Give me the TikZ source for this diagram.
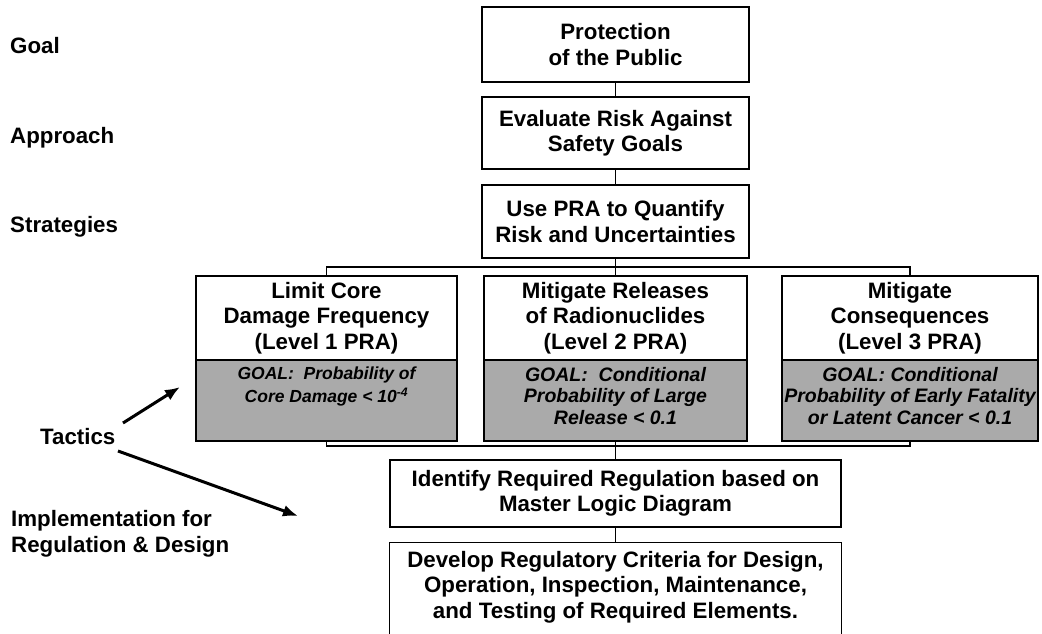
\documentclass[tikz,border=0pt]{standalone}
\usepackage{fontspec}
\setmainfont{Liberation Sans}
\usetikzlibrary{arrows.meta}
\definecolor{goalgray}{RGB}{170,170,170}
\begin{document}
\begin{tikzpicture}[x=1pt,y=-1pt,
  every node/.style={font=\bfseries\fontsize{22.3}{25.5}\selectfont, inner sep=0pt},
  box/.style={draw, line width=1.2pt, align=center},
  graybox/.style={draw, line width=1.2pt, fill=goalgray},
  goaltext/.style={align=center, anchor=north, yshift=-7.5pt, font=\bfseries\itshape\fontsize{19.5}{21.5}\selectfont},
  link/.style={line width=1.2pt},
  tarrow/.style={line width=3pt, -{Latex[length=15pt,width=12pt]}},
  lbl/.style={anchor=base west}]
\useasboundingbox (0,0) rectangle (1042,633);
\clip (0,0) rectangle (1042,633);
% left labels
\node[lbl] (lgoal) at (10,53) {Goal};
\node[lbl] (lappr) at (10,143) {Approach};
\node[lbl] (lstrat) at (10,232) {Strategies};
\node[lbl] (ltac) at (40,444) {Tactics};
\node[lbl, align=left] (limpl) at (11,552) {Implementation for\\Regulation \& Design};
% central column
\node[box, minimum width=267, minimum height=75] (goal) at (615.5,44.5) {Protection\\of the Public};
\node[box, minimum width=267, minimum height=72] (appr) at (615.5,133) {Evaluate Risk Against\\Safety Goals};
\node[box, minimum width=267, minimum height=73] (strat) at (615.5,221.5) {Use PRA to Quantify\\Risk and Uncertainties};
% tactics boxes
\node[box, minimum width=261, minimum height=84] (t1) at (326.5,318) {Limit Core\\Damage Frequency\\(Level 1 PRA)};
\node[box, minimum width=263, minimum height=84] (t2) at (615.5,318) {Mitigate Releases\\of Radionuclides\\(Level 2 PRA)};
\node[box, minimum width=256, minimum height=84] (t3) at (910,318) {Mitigate\\Consequences\\(Level 3 PRA)};
\node[graybox, minimum width=261, minimum height=81] (g1) at (326.5,400.5) {};
\node[graybox, minimum width=263, minimum height=81] (g2) at (615.5,400.5) {};
\node[graybox, minimum width=256, minimum height=81] (g3) at (910,400.5) {};
\node[goaltext, font=\bfseries\itshape\fontsize{17.5}{22.5}\selectfont] (g1t) at (g1.north) {GOAL:\ \ Probability of\\Core Damage < 10\textsuperscript{-4}};
\node[goaltext] (g2t) at (g2.north) {GOAL:\ \ Conditional\\Probability of Large\\Release < 0.1};
\node[goaltext] (g3t) at (g3.north) {GOAL: Conditional\\Probability of Early Fatality\\or Latent Cancer < 0.1};
% implementation boxes
\node[box, minimum width=451, minimum height=67] (ident) at (615.5,493.5) {Identify Required Regulation based on\\Master Logic Diagram};
\node[align=center, minimum width=451, minimum height=88] (dev) at (615.5,587) {Develop Regulatory Criteria for Design,\\Operation, Inspection, Maintenance,\\and Testing of Required Elements.};
\draw[link] ([yshift=-20pt]dev.south west) -- (dev.north west) -- (dev.north east) -- ([yshift=-20pt]dev.south east);
% connectors
\coordinate (busT) at (615.5,267);
\coordinate (busB) at (615.5,446);
\draw[link] (goal) -- (appr);
\draw[link] (appr) -- (strat);
\draw[link] (strat.south) -- (t2.north);
\draw[link] (t1.north) |- (busT) -| (t3.north);
\draw[link] (g1.south) |- (busB) -| (g3.south);
\draw[link] (g2.south) -- (ident.north);
\draw[link] (ident.south) -- (dev.north);
% tactics arrows
\coordinate (a1s) at (123,423);
\coordinate (a1e) at (180,387);
\coordinate (a2s) at (118,451);
\coordinate (a2e) at (298,516);
\draw[tarrow] (a1s) -- (a1e);
\draw[tarrow] (a2s) -- (a2e);
\end{tikzpicture}
\end{document}
